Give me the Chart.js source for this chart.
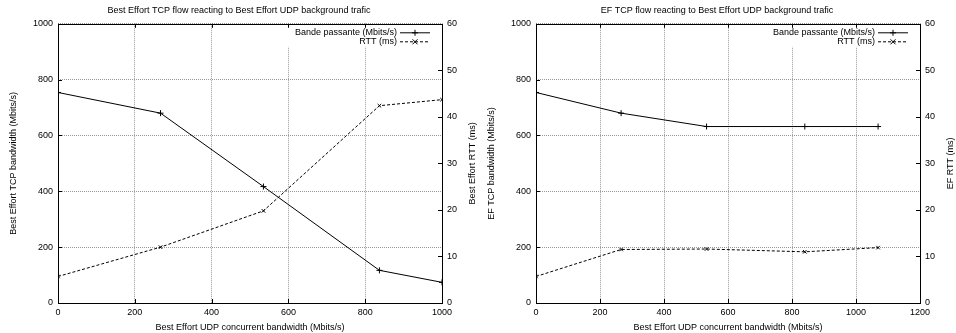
<!DOCTYPE html>
<html>
<head>
<meta charset="utf-8">
<script src="https://cdn.jsdelivr.net/npm/chart.js@4"></script>
<style>
  body { margin: 0; background: #fff; }
  .box { position: absolute; top: 0; width: 478px; height: 333px; }
</style>
</head>
<body>
<div class="box" style="left:0"><canvas id="beChart" width="478" height="333"></canvas></div>
<div class="box" style="left:478px"><canvas id="efChart" width="478" height="333"></canvas></div>
<script>
// Best Effort TCP flow
const beX = [0, 267, 535, 837, 1000];
const beBandwidth = [754, 680, 417, 117, 74];
const beRtt = [5.7, 12.0, 19.8, 42.4, 43.7];

// EF TCP flow
const efX = [0, 266, 533, 840, 1069];
const efBandwidth = [754, 680, 632, 632, 632];
const efRtt = [5.7, 11.5, 11.6, 11.0, 11.9];

const seriesLabels = ['Bande passante (Mbits/s)', 'RTT (ms)'];
const xTitle = 'Best Effort UDP concurrent bandwidth (Mbits/s)';

const FONT = { family: 'Liberation Sans, Arial, sans-serif', size: 9 };

function pts(xs, ys) {
    return xs.map((x, i) => ({ x: x, y: ys[i] }));
}

// gnuplot style frame, inward ticks, y2 title and key
const framePlugin = {
    id: 'frame',
    beforeDatasetsDraw(chart) {
        // the key box hides the grid behind it
        const a = chart.chartArea;
        chart.ctx.save();
        chart.ctx.fillStyle = '#fff';
        chart.ctx.fillRect(a.right - 156, a.top + 1, 156, 22);
        chart.ctx.restore();
    },
    afterDraw(chart, args, opts) {
        const ctx = chart.ctx;
        const a = chart.chartArea;
        const sx = chart.scales.x, sy = chart.scales.y, sy2 = chart.scales.y2;
        ctx.save();
        ctx.strokeStyle = '#000';
        ctx.lineWidth = 1;
        ctx.setLineDash([]);
        ctx.beginPath();
        sx.ticks.forEach(t => {
            const px = Math.round(sx.getPixelForValue(t.value)) + 0.5;
            ctx.moveTo(px, a.bottom); ctx.lineTo(px, a.bottom - 4);
            ctx.moveTo(px, a.top); ctx.lineTo(px, a.top + 4);
        });
        sy.ticks.forEach(t => {
            const py = Math.round(sy.getPixelForValue(t.value)) + 0.5;
            ctx.moveTo(a.left, py); ctx.lineTo(a.left + 4, py);
        });
        sy2.ticks.forEach(t => {
            const py = Math.round(sy2.getPixelForValue(t.value)) + 0.5;
            ctx.moveTo(a.right, py); ctx.lineTo(a.right - 4, py);
        });
        ctx.stroke();
        ctx.strokeRect(Math.round(a.left) + 0.5, Math.round(a.top) + 0.5,
            Math.round(a.right - a.left), Math.round(a.bottom - a.top));

        ctx.font = FONT.size + 'px ' + FONT.family;
        ctx.fillStyle = '#000';

        // right axis title, read bottom to top like the left one
        ctx.save();
        ctx.translate(a.right + 31, (a.top + a.bottom) / 2);
        ctx.rotate(-Math.PI / 2);
        ctx.textAlign = 'center';
        ctx.textBaseline = 'middle';
        ctx.fillText(opts.y2Title, 0, 0);
        ctx.restore();

        // key
        ctx.textAlign = 'right';
        ctx.textBaseline = 'middle';
        chart.data.datasets.forEach((ds, i) => {
            const y = a.top + 9 + i * 9;
            ctx.fillText(ds.label, a.right - 45, y);
            ctx.setLineDash(ds.borderDash || []);
            ctx.beginPath();
            ctx.moveTo(a.right - 42, y); ctx.lineTo(a.right - 12, y);
            ctx.stroke();
            ctx.setLineDash([]);
            const cx = a.right - 27;
            ctx.beginPath();
            if (ds.pointStyle === 'cross') {
                ctx.moveTo(cx - 3, y); ctx.lineTo(cx + 3, y);
                ctx.moveTo(cx, y - 3); ctx.lineTo(cx, y + 3);
            } else {
                ctx.moveTo(cx - 2.5, y - 2.5); ctx.lineTo(cx + 2.5, y + 2.5);
                ctx.moveTo(cx - 2.5, y + 2.5); ctx.lineTo(cx + 2.5, y - 2.5);
            }
            ctx.stroke();
        });
        ctx.restore();
    }
};

const plain = v => String(v);

function make_chart(id, title, xs, bw, rtt, xMax, yTitle, y2Title) {
    let ctx = document.getElementById(id).getContext('2d');
    return new Chart(ctx, {
        type: 'scatter',
        data: {
            datasets: [{
                label: seriesLabels[0],
                data: pts(xs, bw),
                yAxisID: 'y',
                showLine: true,
                borderColor: '#000',
                backgroundColor: '#000',
                borderWidth: 1,
                pointStyle: 'cross',
                pointRadius: 3,
                pointBorderWidth: 1
            }, {
                label: seriesLabels[1],
                data: pts(xs, rtt),
                yAxisID: 'y2',
                showLine: true,
                borderColor: '#000',
                backgroundColor: '#000',
                borderWidth: 1,
                borderDash: [3, 2],
                pointStyle: 'crossRot',
                pointRadius: 2.5,
                pointBorderWidth: 1
            }]
        },
        options: {
            responsive: false,
            animation: false,
            layout: { padding: 0 },
            plugins: {
                legend: { display: false },
                tooltip: { enabled: false },
                title: {
                    display: true,
                    text: title,
                    color: '#000',
                    font: { family: FONT.family, size: 9, weight: 'normal' },
                    padding: { top: 5, bottom: 8 }
                },
                frame: { y2Title: y2Title }
            },
            scales: {
                x: {
                    type: 'linear',
                    min: 0, max: xMax,
                    ticks: { stepSize: 200, color: '#000', font: FONT, padding: 4, maxRotation: 0, callback: plain },
                    grid: { color: '#999', drawTicks: false },
                    border: { display: false, dash: [1, 1] },
                    title: { display: true, text: xTitle, color: '#000', font: FONT, padding: { top: 4, bottom: 0 } },
                    afterFit(s) { s.height = 30; }
                },
                y: {
                    position: 'left',
                    min: 0, max: 1000,
                    ticks: { stepSize: 200, color: '#000', font: FONT, padding: 5, callback: plain },
                    grid: { color: '#999', drawTicks: false },
                    border: { display: false, dash: [1, 1] },
                    title: { display: true, text: yTitle, color: '#000', font: FONT, padding: { top: 8, bottom: 0 } },
                    afterFit(s) { s.width = 58; }
                },
                y2: {
                    position: 'right',
                    min: 0, max: 60,
                    ticks: { stepSize: 10, color: '#000', font: FONT, padding: 5, callback: plain },
                    grid: { display: false, drawTicks: false },
                    border: { display: false },
                    afterFit(s) { s.width = 36; }
                }
            }
        },
        plugins: [framePlugin]
    });
}

make_chart('beChart', 'Best Effort TCP flow reacting to Best Effort UDP background trafic',
    beX, beBandwidth, beRtt, 1000, 'Best Effort TCP bandwidth (Mbits/s)', 'Best Effort RTT (ms)');
make_chart('efChart', 'EF TCP flow reacting to Best Effort UDP background trafic',
    efX, efBandwidth, efRtt, 1200, 'EF TCP bandwidth (Mbits/s)', 'EF RTT (ms)');
</script>
</body>
</html>
